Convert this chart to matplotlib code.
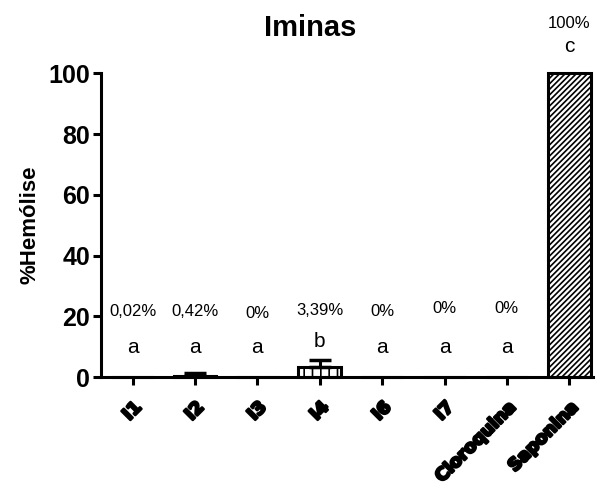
import matplotlib
matplotlib.use("Agg")
import matplotlib.pyplot as plt
import matplotlib.patheffects as pe
import matplotlib.transforms as mtransforms
import numpy as np

plt.rcParams['hatch.linewidth'] = 1.2

categories = ["I1", "I2", "I3", "I4", "I6", "I7", "Cloroquina", "Saponina"]
values = [0.02, 0.42, 0.0, 3.39, 0.0, 0.0, 0.0, 100.0]
errors = [0.0, 0.9, 0.0, 2.3, 0.0, 0.0, 0.0, 0.0]
pct_labels = ["0,02%", "0,42%", "0%", "3,39%", "0%", "0%", "0%", "100%"]
pct_y = [21.5, 21.5, 21.0, 22.0, 21.5, 22.5, 22.5, 116.5]
letters = ["a", "a", "a", "b", "a", "a", "a", "c"]
letter_y = [6.5, 6.5, 6.5, 8.5, 6.5, 6.5, 6.5, 105.5]
hatches = ["", "", "", "||", "", "", "", "//////"]

fig = plt.figure(figsize=(5.96, 4.88), dpi=100)
ax = fig.add_axes([0.170, 0.227, 0.825, 0.623])
x = np.arange(len(categories))
for i in range(len(categories)):
    ax.bar(x[i], values[i], width=0.68, color="white", edgecolor="black",
           linewidth=2.2, hatch=hatches[i], clip_on=False, zorder=2)
    if errors[i] > 0:
        ax.errorbar(x[i], values[i], yerr=[[0], [errors[i]]], fmt="none",
                    ecolor="black", elinewidth=2.2, capsize=8, capthick=2.5, zorder=3)
    ax.text(x[i], pct_y[i], pct_labels[i], ha="center", va="center", fontsize=12,
            family="Liberation Sans")
    ax.text(x[i], letter_y[i], letters[i], ha="center", va="bottom", fontsize=15,
            family="Liberation Sans", clip_on=False)

ax.set_xlim(-0.5, 7.38)
ax.set_ylim(0, 100)
ax.set_yticks([0, 20, 40, 60, 80, 100])
ax.set_xticks(x)
ax.set_xticklabels(categories, rotation=45, ha="right", rotation_mode="anchor",
                   fontsize=12.5, fontweight="bold", family="DejaVu Sans")
offset = mtransforms.ScaledTranslation(0.07, -0.03, fig.dpi_scale_trans)
for lab in ax.get_xticklabels():
    lab.set_path_effects([pe.withStroke(linewidth=1.8, foreground="black")])
    lab.set_transform(lab.get_transform() + offset)
for lab in ax.get_yticklabels():
    lab.set_fontweight("bold")
    lab.set_family("Liberation Sans")
    lab.set_fontsize(18)
ax.spines["top"].set_visible(False)
ax.spines["right"].set_visible(False)
ax.spines["left"].set_linewidth(2.2)
ax.spines["bottom"].set_linewidth(2.2)
ax.tick_params(axis="both", width=2.2, length=6, direction="out")
ax.tick_params(axis="x", pad=9)
ax.tick_params(axis="y", pad=2)
ax.set_ylabel("%Hemólise", fontsize=16, fontweight="bold", family="Liberation Sans", labelpad=6)
fig.text(0.52, 0.942, "Iminas", ha="center", va="center", fontsize=21,
         fontweight="bold", family="Liberation Sans")
fig.savefig("out.png", dpi=100)
